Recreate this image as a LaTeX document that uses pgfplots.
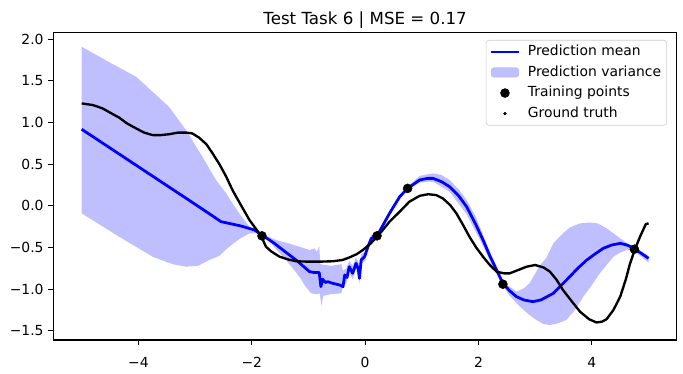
\documentclass[border=0pt]{standalone}
\usepackage{fontspec}
\setmainfont{DejaVu Sans}
\usepackage{pgfplots}
\pgfplotsset{compat=1.18}
\usepgfplotslibrary{fillbetween}
\definecolor{bandblue}{rgb}{0.75,0.75,1}
\begin{document}
\begin{tikzpicture}
\begin{axis}[
  width=449pt, height=221.3pt, scale only axis,
  xmin=-5.5, xmax=5.5, ymin=-1.61, ymax=2.08,
  xtick={-4,-2,0,2,4}, xticklabels={−4,−2,0,2,4},
  ytick={-1.5,-1,-0.5,0,0.5,1,1.5,2},
  yticklabels={−1.5,−1.0,−0.5,0.0,0.5,1.0,1.5,2.0},
  tick pos=left, tick align=outside,
  major tick length=3.5pt,
  every tick/.style={black, line width=0.8pt},
  axis line style={line width=0.8pt},
  tick label style={font=\fontsize{10}{12}\selectfont},
  xticklabel style={yshift=-5.5pt},
  title={Test Task 6 | MSE = 0.17},
  every axis title/.style={font=\fontsize{12}{14}\selectfont, at={(0.5,1)}, anchor=base, yshift=6pt},
  legend style={at={(1,1)}, anchor=north east, xshift=-7.2pt, yshift=-5.3pt,
    draw=black!20, rounded corners=2pt, fill=white,
    font=\fontsize{10}{12}\selectfont, inner xsep=2.5pt, inner ysep=2pt, row sep=2pt,
    nodes={inner sep=1.5pt, text height=7.5pt, text depth=2.3pt}},
  legend cell align=left,
]
% variance band
\addplot[name path=up, draw=none, forget plot] coordinates {
(-5.0,1.91) (-4.5,1.72) (-4.04,1.55) (-3.46,1.19) (-3.16,0.91) (-2.87,0.59)
(-2.63,0.31) (-2.45,0.15) (-2.34,0.03) (-2.2,-0.11) (-2.04,-0.25) (-1.9,-0.33)
(-1.82,-0.35) (-1.7,-0.37) (-1.57,-0.41) (-1.35,-0.45) (-1.16,-0.49) (-0.98,-0.53)
(-0.89,-0.51) (-0.85,-0.55) (-0.81,-0.48) (-0.79,-0.70) (-0.6,-0.72) (-0.42,-0.70)
(-0.39,-0.78) (-0.33,-0.75) (-0.28,-0.66) (-0.22,-0.72) (-0.16,-0.62) (-0.1,-0.70)
(-0.07,-0.58) (0.0,-0.55) (0.05,-0.44) (0.11,-0.35) (0.21,-0.34) (0.43,-0.07)
(0.61,0.13) (0.75,0.23) (0.96,0.36) (1.2,0.39) (1.35,0.37) (1.49,0.31) (1.65,0.20)
(1.79,0.07) (1.95,-0.13) (2.08,-0.35) (2.2,-0.55) (2.32,-0.74) (2.43,-0.91)
(2.55,-0.97) (2.67,-1.03) (2.8,-0.99) (2.9,-0.93) (3.08,-0.72) (3.2,-0.62)
(3.32,-0.45) (3.49,-0.33) (3.61,-0.26) (3.79,-0.21) (3.96,-0.20) (4.1,-0.21)
(4.26,-0.27) (4.38,-0.33) (4.5,-0.39) (4.67,-0.47) (4.75,-0.50) (4.85,-0.54) (5.0,-0.60)
};
\addplot[name path=lo, draw=none, forget plot] coordinates {
(-5.0,-0.09) (-4.34,-0.37) (-3.75,-0.61) (-3.4,-0.70) (-3.16,-0.73) (-2.95,-0.72)
(-2.75,-0.65) (-2.57,-0.60) (-2.45,-0.52) (-2.34,-0.46) (-2.2,-0.39) (-2.04,-0.33)
(-1.9,-0.33) (-1.82,-0.36) (-1.7,-0.42) (-1.57,-0.52) (-1.45,-0.61) (-1.3,-0.73)
(-1.16,-0.85) (-1.05,-0.97) (-0.95,-1.05) (-0.85,-1.06) (-0.8,-1.05) (-0.77,-1.20)
(-0.74,-1.08) (-0.6,-1.06) (-0.42,-1.05) (-0.39,-0.97) (-0.33,-0.92) (-0.28,-0.80)
(-0.22,-0.88) (-0.16,-0.75) (-0.1,-0.93) (-0.07,-0.70) (0.0,-0.66) (0.05,-0.53)
(0.11,-0.43) (0.21,-0.38) (0.43,-0.11) (0.61,0.09) (0.75,0.19) (0.96,0.28)
(1.2,0.29) (1.49,0.17) (1.79,-0.10) (2.08,-0.48) (2.2,-0.66) (2.32,-0.82)
(2.43,-0.96) (2.55,-1.08) (2.73,-1.21) (2.88,-1.30) (3.02,-1.37) (3.15,-1.42)
(3.26,-1.43) (3.4,-1.41) (3.55,-1.37) (3.7,-1.25) (3.85,-1.09) (4.0,-0.95)
(4.14,-0.81) (4.26,-0.71) (4.38,-0.61) (4.5,-0.56) (4.61,-0.53) (4.72,-0.53)
(4.85,-0.60) (5.0,-0.68)
};
\addplot[fill=bandblue, draw=none, forget plot] fill between[of=up and lo];
% prediction mean
\addplot[blue, line width=2pt, line join=round, forget plot] coordinates {
(-5.0,0.92) (-4.0,0.47) (-3.0,0.02) (-2.54,-0.19) (-2.2,-0.24) (-1.95,-0.29)
(-1.82,-0.35) (-1.6,-0.45) (-1.45,-0.53) (-1.2,-0.66) (-0.98,-0.79) (-0.9,-0.80)
(-0.81,-0.80) (-0.78,-0.97) (-0.75,-0.88) (-0.70,-0.92) (-0.66,-0.91) (-0.57,-0.93)
(-0.45,-0.95) (-0.39,-0.97) (-0.36,-0.83) (-0.32,-0.86) (-0.28,-0.73) (-0.22,-0.81)
(-0.16,-0.69) (-0.12,-0.76) (-0.10,-0.87) (-0.07,-0.65) (-0.01,-0.61) (0.02,-0.55)
(0.05,-0.49) (0.11,-0.39) (0.21,-0.36) (0.3,-0.25) (0.43,-0.09) (0.61,0.11)
(0.75,0.21) (0.96,0.31) (1.1,0.33) (1.2,0.33) (1.35,0.29) (1.49,0.23) (1.65,0.12)
(1.79,-0.01) (1.95,-0.22) (2.08,-0.41) (2.2,-0.60) (2.32,-0.77) (2.43,-0.93)
(2.55,-1.02) (2.67,-1.09) (2.8,-1.13) (2.96,-1.15) (3.1,-1.13) (3.32,-1.05)
(3.45,-0.96) (3.61,-0.85) (3.75,-0.75) (3.91,-0.65) (4.05,-0.58) (4.2,-0.51)
(4.35,-0.47) (4.5,-0.45) (4.62,-0.47) (4.75,-0.51) (4.85,-0.56) (5.0,-0.63)
};
% ground truth
\addplot[black, line width=1.7pt, line join=round, forget plot] coordinates {
(-5.0,1.23) (-4.8,1.21) (-4.63,1.17) (-4.5,1.12) (-4.34,1.06) (-4.2,0.99)
(-4.04,0.93) (-3.9,0.88) (-3.75,0.85) (-3.6,0.85) (-3.46,0.86) (-3.3,0.88)
(-3.16,0.88) (-3.05,0.87) (-2.93,0.82) (-2.8,0.74) (-2.69,0.63) (-2.57,0.50)
(-2.45,0.35) (-2.34,0.19) (-2.2,0.02) (-2.04,-0.17) (-1.9,-0.30) (-1.82,-0.38)
(-1.75,-0.49) (-1.65,-0.55) (-1.51,-0.61) (-1.35,-0.645) (-1.22,-0.665) (-1.0,-0.67)
(-0.81,-0.67) (-0.57,-0.665) (-0.4,-0.65) (-0.28,-0.62) (-0.15,-0.58) (-0.04,-0.53)
(0.1,-0.45) (0.21,-0.37) (0.3,-0.30) (0.43,-0.19) (0.61,-0.07) (0.78,0.05)
(0.96,0.12) (1.11,0.14) (1.25,0.13) (1.37,0.09) (1.5,0.01) (1.61,-0.09)
(1.72,-0.22) (1.84,-0.37) (1.96,-0.50) (2.08,-0.61) (2.2,-0.71) (2.32,-0.79)
(2.45,-0.81) (2.55,-0.81) (2.7,-0.77) (2.85,-0.73) (3.0,-0.71) (3.15,-0.74)
(3.26,-0.79) (3.38,-0.89) (3.49,-1.01) (3.65,-1.15) (3.79,-1.27) (3.95,-1.36)
(4.08,-1.40) (4.18,-1.39) (4.26,-1.36) (4.38,-1.25) (4.5,-1.09) (4.6,-0.88)
(4.67,-0.70) (4.76,-0.52) (4.85,-0.37) (4.95,-0.22) (5.0,-0.21)
};
% training points
\addplot[only marks, mark=*, mark size=3.2pt, black, forget plot] coordinates {
(-1.82,-0.36) (0.21,-0.36) (0.75,0.21) (2.43,-0.94) (4.75,-0.52)
};
% legend
\addlegendimage{legend image code/.code={\path[draw=none,fill=none] (0pt,0pt) -- (25pt,0pt);\draw[blue, line width=2pt] (0pt,0pt) -- (20pt,0pt);}}
\addlegendentry{Prediction mean}
\addlegendimage{legend image code/.code={\path[draw=none,fill=none] (0pt,0pt) -- (25pt,0pt);\fill[bandblue] (0pt,-3.4pt) rectangle (20pt,3.4pt);}}
\addlegendentry{Prediction variance}
\addlegendimage{legend image code/.code={\path[draw=none,fill=none] (0pt,0pt) -- (25pt,0pt);\fill[black] (10pt,0pt) circle (3.2pt);}}
\addlegendentry{Training points}
\addlegendimage{legend image code/.code={\path[draw=none,fill=none] (0pt,0pt) -- (25pt,0pt);\fill[black] (10pt,0pt) circle (1pt);}}
\addlegendentry{Ground truth}
\end{axis}
\pgfresetboundingbox
\useasboundingbox ([shift={(-38.4pt,-24.5pt)}]current axis.south west) rectangle ++(491.8pt,269.3pt);
\end{tikzpicture}
\end{document}
